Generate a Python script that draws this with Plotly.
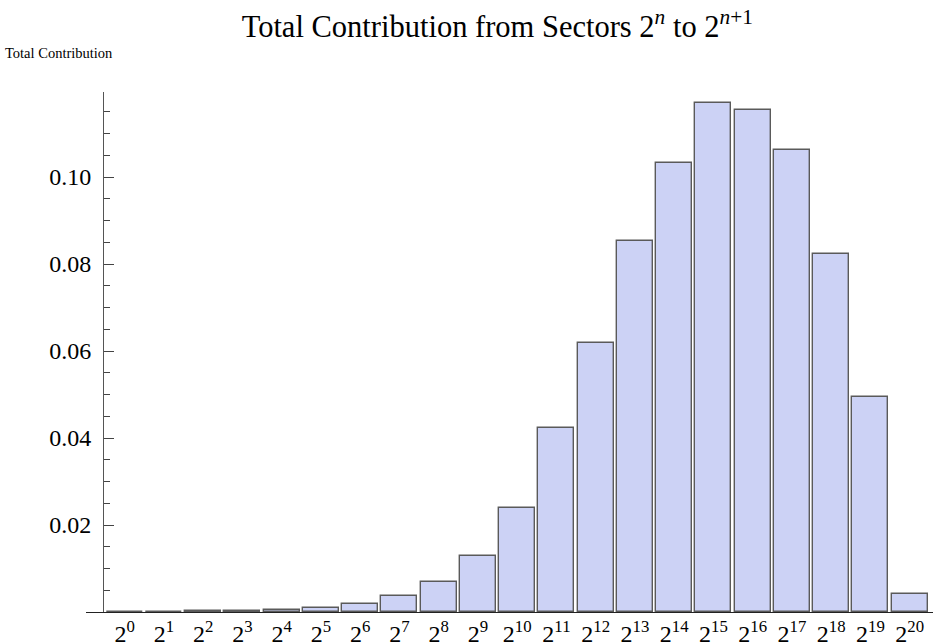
import plotly.graph_objects as go

# Data
exponents = list(range(21))
tick_labels = [f"2<sup>{k}</sup>" for k in exponents]
contributions = [0.00005, 0.0001, 0.00017, 0.0003, 0.0005, 0.00095, 0.0019,
                 0.0036, 0.0068, 0.0128, 0.0240, 0.0424, 0.0619, 0.0854,
                 0.1032, 0.1171, 0.1154, 0.1062, 0.0823, 0.0494, 0.0042]
y_tick_vals = [0.02, 0.04, 0.06, 0.08, 0.10]

FONT = "'Times New Roman', 'Liberation Serif', Times, serif"
x_range = [-0.986, 20.594]

fig = go.Figure()
fig.add_trace(go.Bar(
    x=exponents, y=contributions, width=0.917,
    marker=dict(color="rgb(204,210,245)", line=dict(color="#5a5a5a", width=1.4)),
    hoverinfo="x+y", showlegend=False,
))

fig.update_layout(
    width=933, height=642,
    margin=dict(l=86, r=0, t=92, b=30, autoexpand=False),
    paper_bgcolor="white", plot_bgcolor="white",
    font=dict(family=FONT, color="black", size=24),
    title=dict(
        text="Total Contribution from Sectors 2<sup><i>n</i></sup> to 2<sup><i>n</i>+1</sup>",
        font=dict(family=FONT, size=30.5, color="black"),
        x=0.533, xanchor="center", xref="container",
        y=1 - 26 / 642, yanchor="middle", yref="container",
    ),
    bargap=0,
    xaxis=dict(
        range=x_range, tickvals=exponents, ticktext=tick_labels,
        ticks="", showgrid=False, zeroline=False, automargin=False,
        showline=True, linecolor="#222", linewidth=1,
        tickfont=dict(family=FONT, size=24, color="black"),
        fixedrange=True,
    ),
    xaxis2=dict(
        overlaying="x", anchor="y", side="bottom", matches="x",
        range=x_range, tickvals=[-0.553, -0.5, 20.5], automargin=False,
        ticks="outside", ticklen=10, tickcolor="#333", tickwidth=1,
        showticklabels=False, showgrid=False, zeroline=False, showline=False,
    ),
    yaxis=dict(
        range=[0, 520 / 4350], anchor="free", position=17 / 847, automargin=False,
        tickvals=y_tick_vals, tickformat=".2f", ticklabelstandoff=7,
        ticks="inside", ticklen=10, tickcolor="#444", tickwidth=1,
        minor=dict(dtick=0.005, tick0=0, ticks="inside", ticklen=6, tickcolor="#444", tickwidth=1),
        showline=True, linecolor="#555", linewidth=1,
        showgrid=False, zeroline=False,
        tickfont=dict(family=FONT, size=24, color="black"),
        fixedrange=True,
    ),
    annotations=[dict(
        text="Total Contribution", xref="paper", yref="paper",
        x=(3 - 86) / 847, y=(612 - 53) / 520, xanchor="left", yanchor="middle",
        showarrow=False, font=dict(family=FONT, size=14.5, color="black"),
    )],
)

fig.write_html(
    "out.html",
    config={"displayModeBar": False},
    post_script="document.body.style.margin='0';document.body.style.overflow='hidden';",
)
